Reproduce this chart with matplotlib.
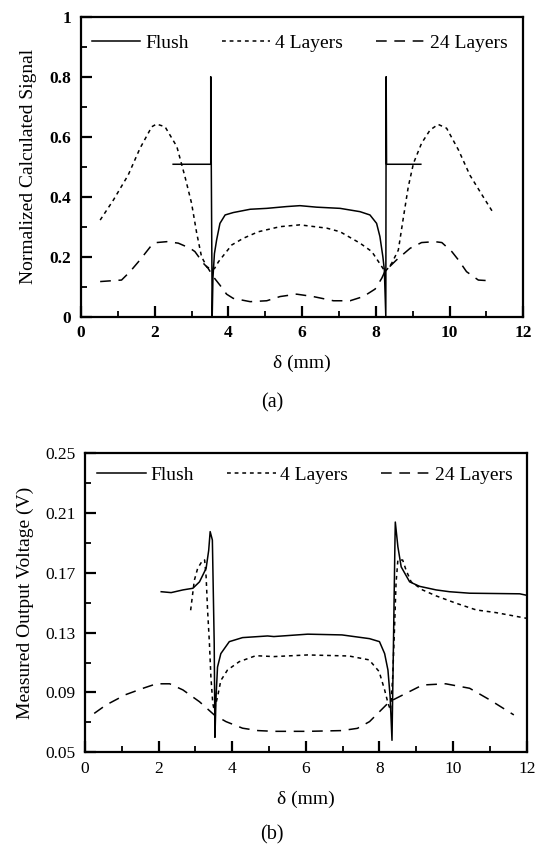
import numpy as np
import matplotlib
matplotlib.use("Agg")
import matplotlib.pyplot as plt
from matplotlib.ticker import MultipleLocator, FormatStrFormatter

plt.rcParams['font.family'] = ['Liberation Serif', 'DejaVu Serif']

# (a) calculated signal
flush_a_x = [2.50, 3.52, 3.52, 3.56, 3.58, 3.62, 3.68, 3.77, 3.91, 4.13, 4.59, 5.04, 5.58, 5.94,
             6.39, 7.03, 7.57, 7.84, 8.02, 8.11, 8.19, 8.23, 8.27, 8.28, 8.29, 9.22]
flush_a_y = [0.508, 0.508, 0.80, 0.0, 0.13, 0.21, 0.256, 0.311, 0.339, 0.347, 0.358, 0.361, 0.367, 0.370,
             0.365, 0.361, 0.350, 0.339, 0.311, 0.267, 0.200, 0.156, 0.0, 0.80, 0.508, 0.508]

four_a_x = [0.52, 0.88, 1.28, 1.60, 1.92, 2.05, 2.28, 2.60, 2.82, 3.00, 3.14, 3.27, 3.42, 3.55, 3.62,
            3.73, 4.09, 4.40, 4.81, 5.40, 5.94, 6.67, 7.03, 7.57, 7.89, 8.16, 8.25, 8.32, 8.43, 8.61,
            8.75, 8.88, 9.02, 9.24, 9.47, 9.69, 9.92, 10.24, 10.55, 10.91, 11.19]
four_a_y = [0.322, 0.389, 0.472, 0.561, 0.633, 0.642, 0.633, 0.567, 0.467, 0.378, 0.278, 0.200, 0.165,
            0.160, 0.160, 0.183, 0.239, 0.261, 0.283, 0.300, 0.306, 0.295, 0.283, 0.245, 0.217, 0.167,
            0.150, 0.160, 0.178, 0.222, 0.333, 0.433, 0.511, 0.578, 0.622, 0.641, 0.628, 0.556, 0.472,
            0.400, 0.345]

tf_a_x = [0.52, 1.10, 1.33, 1.60, 1.92, 2.05, 2.33, 2.64, 2.96, 3.09, 3.32, 3.45, 3.59, 3.77, 3.95,
          4.13, 4.59, 5.04, 5.40, 5.85, 6.30, 6.85, 7.30, 7.66, 7.98, 8.16, 8.25, 8.56, 8.93, 9.24,
          9.60, 9.79, 10.06, 10.24, 10.46, 10.78, 11.05]
tf_a_y = [0.117, 0.122, 0.150, 0.189, 0.239, 0.247, 0.250, 0.245, 0.228, 0.217, 0.178, 0.161, 0.133,
          0.105, 0.075, 0.061, 0.050, 0.053, 0.067, 0.075, 0.067, 0.053, 0.053, 0.067, 0.092, 0.128,
          0.152, 0.189, 0.228, 0.247, 0.250, 0.247, 0.217, 0.189, 0.150, 0.122, 0.120]

# (b) measured output voltage
flush_b_x = [2.07, 2.34, 2.66, 2.93, 3.11, 3.29, 3.36, 3.40, 3.46, 3.51, 3.53, 3.56, 3.60, 3.69, 3.92,
             4.28, 4.96, 5.13, 6.05, 6.98, 7.73, 8.00, 8.14, 8.23, 8.29, 8.34, 8.38, 8.42, 8.43, 8.50,
             8.59, 8.82, 9.09, 9.54, 9.90, 10.45, 11.81, 12.0]
flush_b_y = [0.1574, 0.1568, 0.1586, 0.1597, 0.164, 0.173, 0.185, 0.1976, 0.192, 0.123, 0.060, 0.087,
             0.107, 0.116, 0.124, 0.1267, 0.1278, 0.1274, 0.129, 0.1285, 0.126, 0.124, 0.116, 0.105,
             0.087, 0.058, 0.123, 0.190, 0.204, 0.1875, 0.174, 0.164, 0.161, 0.1586, 0.1574, 0.1564,
             0.156, 0.155]

four_b_x = [2.87, 2.92, 2.97, 3.06, 3.20, 3.25, 3.29, 3.33, 3.38, 3.42, 3.47, 3.51, 3.60, 3.69, 3.87,
            4.19, 4.64, 5.13, 6.05, 7.17, 7.72, 7.99, 8.14, 8.23, 8.30, 8.36, 8.41, 8.45, 8.50, 8.63,
            8.72, 8.86, 9.17, 9.54, 10.08, 10.63, 11.17, 11.76, 12.0]
four_b_y = [0.145, 0.155, 0.165, 0.173, 0.1786, 0.1786, 0.1675, 0.145, 0.123, 0.1006, 0.083, 0.078,
            0.087, 0.098, 0.105, 0.1106, 0.1146, 0.114, 0.1151, 0.1144, 0.1118, 0.104, 0.0917, 0.083,
            0.078, 0.1006, 0.134, 0.163, 0.1786, 0.1786, 0.172, 0.164, 0.1586, 0.1546, 0.1497, 0.1452,
            0.1434, 0.1407, 0.1396]

tf_b_x = [0.25, 0.57, 1.10, 1.60, 1.94, 2.30, 2.66, 3.11, 3.51, 3.83, 4.28, 4.70, 5.13, 6.05, 6.98,
          7.40, 7.73, 8.27, 8.63, 9.17, 9.80, 10.45, 11.00, 11.65]
tf_b_y = [0.076, 0.0816, 0.0885, 0.093, 0.0958, 0.0958, 0.0917, 0.0838, 0.075, 0.0705, 0.0661, 0.0645,
          0.064, 0.064, 0.0645, 0.066, 0.0705, 0.0838, 0.0883, 0.095, 0.0958, 0.0928, 0.085, 0.075]

labels = ["Flush", "4 Layers", "24 Layers"]


def style_axes(ax, ymin, ymax, ymajor, yminor, yoff, yfmt, bold):
    ax.set_xlim(0, 12)
    ax.set_ylim(ymin, ymax)
    ax.xaxis.set_major_locator(MultipleLocator(2))
    ax.xaxis.set_minor_locator(MultipleLocator(1))
    ax.yaxis.set_major_locator(MultipleLocator(ymajor, offset=yoff))
    ax.yaxis.set_minor_locator(MultipleLocator(yminor, offset=yoff))
    ax.yaxis.set_major_formatter(FormatStrFormatter(yfmt))
    ax.tick_params(which='major', direction='in', length=8, width=1.6, labelsize=12.5)
    ax.tick_params(axis='x', which='major', pad=6)
    ax.tick_params(axis='y', which='major', pad=7)
    ax.tick_params(which='minor', direction='in', length=4.5, width=1.3)
    ax.tick_params(which='both', top=False, right=False)
    for s in ax.spines.values():
        s.set_linewidth(1.6)
    for lab in ax.get_xticklabels() + ax.get_yticklabels():
        lab.set_fontweight('bold' if bold else 'normal')
    ax.set_xlabel("δ (mm)", fontsize=14, labelpad=10)


fig = plt.figure(figsize=(5.35, 8.46), dpi=100)
ax1 = fig.add_axes([0.1514, 0.6257, 0.8267, 0.3546])
ax2 = fig.add_axes([0.1589, 0.1108, 0.8256, 0.3534])

ax1.plot(flush_a_x, flush_a_y, color='black', lw=1.1, label=labels[0])
ax1.plot(four_a_x, four_a_y, color='black', lw=1.1, dashes=(2.5, 2.5), label=labels[1])
ax1.plot(tf_a_x, tf_a_y, color='black', lw=1.1, dashes=(7, 5), label=labels[2])
style_axes(ax1, 0, 1, 0.2, 0.1, 0.0, '%g', True)
ax1.set_ylabel("Normalized Calculated Signal", fontsize=14, labelpad=9)
ax1.legend(loc='center left', bbox_to_anchor=(0.024, 0.913), ncol=3, frameon=False, fontsize=14,
           handlelength=2.5, handletextpad=0.25, columnspacing=1.7, borderaxespad=0, borderpad=0)

ax2.plot(flush_b_x, flush_b_y, color='black', lw=1.1, label=labels[0])
ax2.plot(four_b_x, four_b_y, color='black', lw=1.1, dashes=(2.5, 2.5), label=labels[1])
ax2.plot(tf_b_x, tf_b_y, color='black', lw=1.1, dashes=(7, 5), label=labels[2])
style_axes(ax2, 0.05, 0.25, 0.04, 0.02, 0.01, '%.2f', False)
ax2.set_ylabel("Measured Output Voltage (V)", fontsize=14, labelpad=8)
ax2.legend(loc='center left', bbox_to_anchor=(0.027, 0.927), ncol=3, frameon=False, fontsize=14,
           handlelength=2.5, handletextpad=0.25, columnspacing=1.7, borderaxespad=0, borderpad=0)

fig.text(272 / 535, 1 - 403 / 846, "(a)", ha='center', va='center', fontsize=14.5)
fig.text(272 / 535, 1 - 835 / 846, "(b)", ha='center', va='center', fontsize=14.5)

fig.savefig("out.png", dpi=100)
